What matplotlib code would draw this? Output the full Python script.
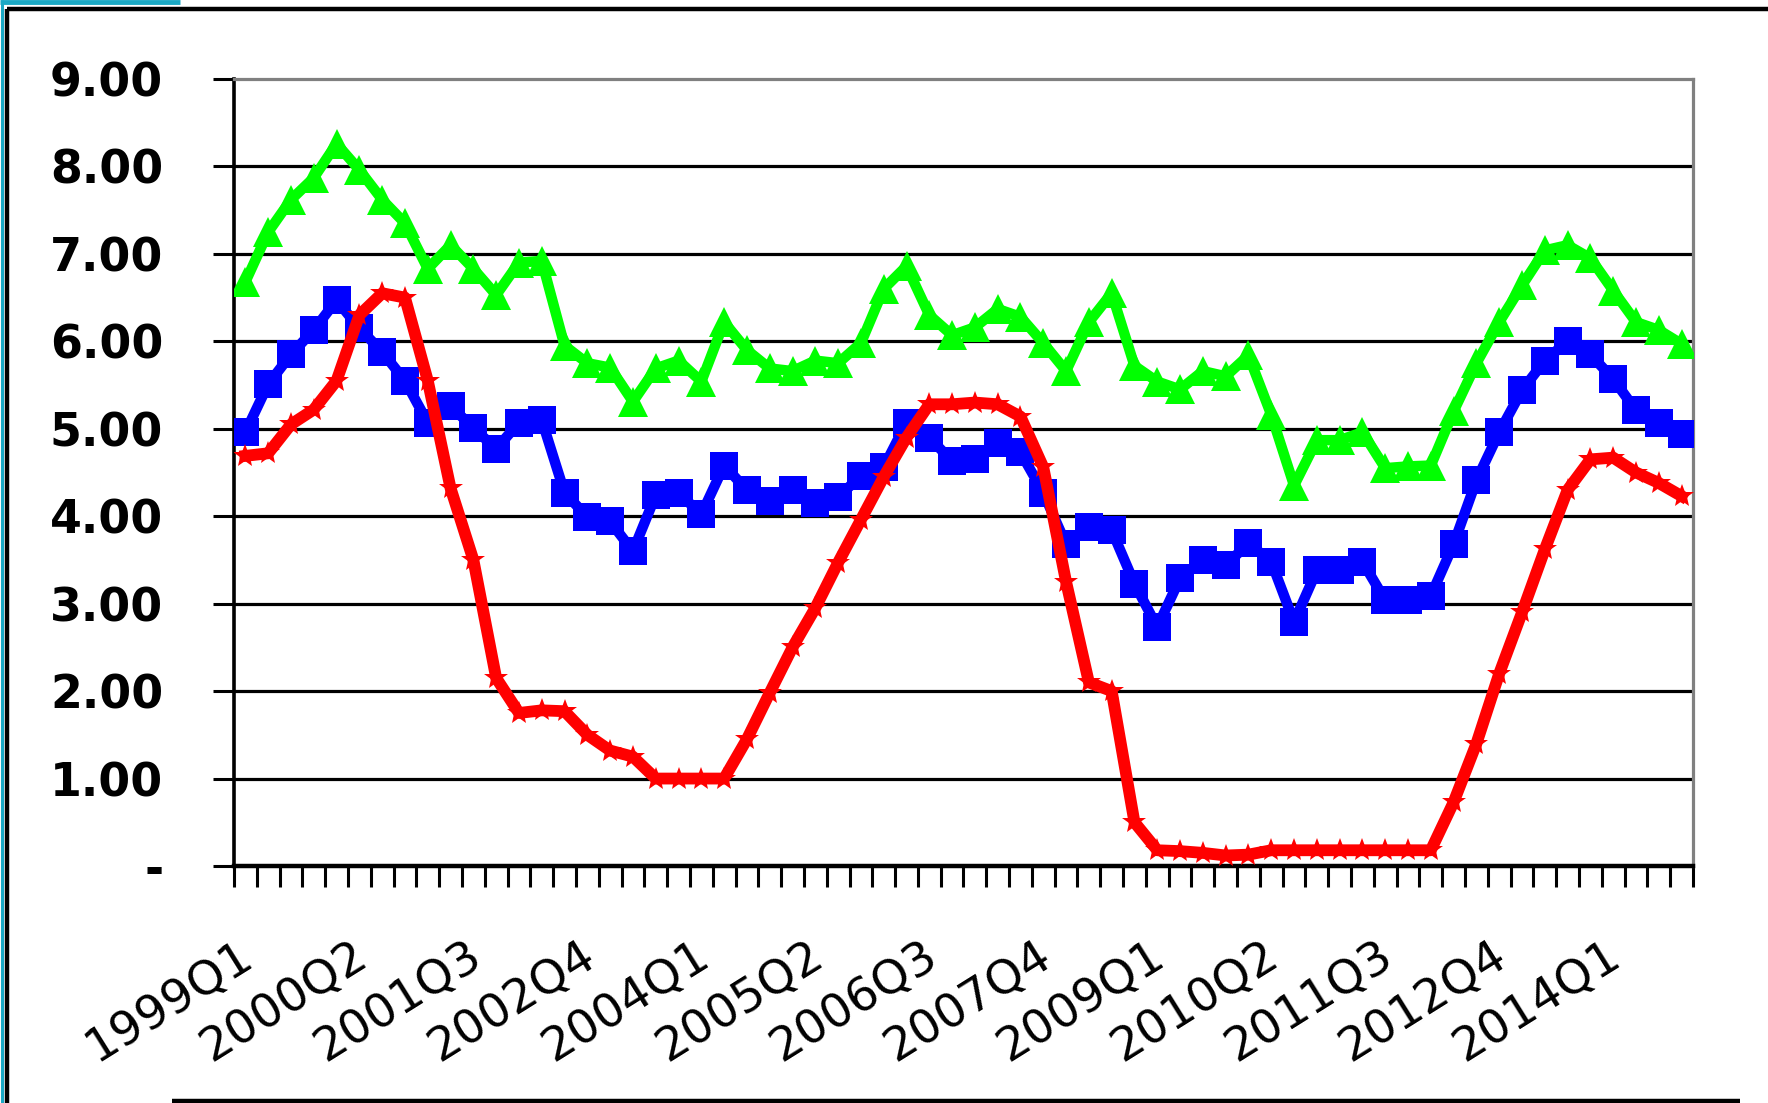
import numpy as np
import matplotlib
matplotlib.use("Agg")
import matplotlib.pyplot as plt
from matplotlib.lines import Line2D
from matplotlib.transforms import ScaledTranslation

# ---------------- data ----------------
years = list(range(1999, 2015))
quarters = [1, 2, 3, 4]
categories = [f"{y}Q{q}" for y in years for q in quarters]

green = [6.68, 7.25, 7.62, 7.87, 8.26, 7.96, 7.62, 7.35, 6.83, 7.10, 6.83, 6.53, 6.90, 6.92, 5.95, 5.75,
         5.70, 5.31, 5.69, 5.78, 5.54, 6.22, 5.90, 5.69, 5.66, 5.78, 5.75, 5.98, 6.60, 6.86, 6.30, 6.07,
         6.16, 6.37, 6.28, 5.98, 5.66, 6.22, 6.55, 5.72, 5.54, 5.45, 5.66, 5.60, 5.84, 5.16, 4.35, 4.87,
         4.87, 4.96, 4.55, 4.57, 4.58, 5.20, 5.75, 6.22, 6.64, 7.04, 7.10, 6.95, 6.58, 6.22, 6.13, 5.97]

blue = [4.96, 5.51, 5.85, 6.13, 6.47, 6.15, 5.88, 5.55, 5.07, 5.26, 5.01, 4.77, 5.07, 5.10, 4.27, 3.99,
        3.94, 3.60, 4.24, 4.27, 4.02, 4.58, 4.30, 4.17, 4.30, 4.15, 4.22, 4.46, 4.56, 5.07, 4.90, 4.63,
        4.65, 4.84, 4.73, 4.27, 3.68, 3.88, 3.84, 3.23, 2.73, 3.29, 3.50, 3.44, 3.69, 3.48, 2.79, 3.38,
        3.38, 3.48, 3.04, 3.04, 3.09, 3.68, 4.41, 4.96, 5.44, 5.78, 6.00, 5.85, 5.57, 5.21, 5.07, 4.94]

red = [4.69, 4.72, 5.05, 5.22, 5.55, 6.30, 6.55, 6.50, 5.55, 4.32, 3.50, 2.15, 1.75, 1.78, 1.77, 1.50,
       1.32, 1.25, 1.00, 1.00, 1.00, 1.00, 1.45, 1.98, 2.50, 2.95, 3.47, 3.96, 4.45, 4.90, 5.28, 5.28,
       5.30, 5.28, 5.14, 4.56, 3.25, 2.10, 2.00, 0.50, 0.18, 0.17, 0.15, 0.12, 0.13, 0.18, 0.18, 0.18,
       0.18, 0.18, 0.18, 0.18, 0.18, 0.73, 1.40, 2.20, 2.90, 3.62, 4.30, 4.65, 4.67, 4.50, 4.38, 4.23]

y_ticks = [0, 1, 2, 3, 4, 5, 6, 7, 8, 9]
y_tick_labels = ["-", "1.00", "2.00", "3.00", "4.00", "5.00", "6.00", "7.00", "8.00", "9.00"]
label_step = 5

# ---------------- figure ----------------
W, H = 1768, 1103
fig = plt.figure(figsize=(W / 100, H / 100), dpi=100)
fig.patch.set_facecolor("white")

left, right, top, bottom = 234, 1693, 79, 866
ax = fig.add_axes([left / W, 1 - bottom / H, (right - left) / W, (bottom - top) / H])

x = np.arange(len(categories))

ax.set_xlim(-0.5, len(categories) - 0.5)
ax.set_ylim(0, 9)

# gridlines (1..8)
for v in y_ticks[1:-1]:
    ax.axhline(v, color="black", lw=2.3, zorder=1)

ax.plot(x, green, color="#00ff00", lw=7.5, marker="^", markersize=21,
        markeredgewidth=0, zorder=3, solid_joinstyle="miter")
ax.plot(x, blue, color="#0000ff", lw=7.5, marker="s", markersize=20,
        markeredgewidth=0, zorder=4, solid_joinstyle="miter")
ax.plot(x, red, color="#ff0000", lw=8.5, marker="*", markersize=18,
        markeredgewidth=0, zorder=5)

# y axis
ax.set_yticks(y_ticks)
ax.set_yticklabels(y_tick_labels, fontfamily="DejaVu Sans", fontweight="bold", fontsize=33)
ax.tick_params(axis="y", length=15, width=2.2, pad=36, color="black")

# x axis
ax.set_xticks(x[::label_step])
ax.set_xticklabels(categories[::label_step], fontfamily="DejaVu Sans", fontsize=34,
                   rotation=32, ha="right", va="top", rotation_mode="anchor")
ax.set_xticks(np.arange(-0.5, len(categories), 1), minor=True)
ax.tick_params(axis="x", which="major", length=0, pad=48)
ax.tick_params(axis="x", which="minor", length=15, width=2.2, color="black", direction="out")
shift = ScaledTranslation(-0.08, 0, fig.dpi_scale_trans)
for lab in ax.xaxis.get_majorticklabels():
    lab.set_transform(lab.get_transform() + shift)

for s in ["top", "right"]:
    ax.spines[s].set_color("#808080")
    ax.spines[s].set_linewidth(2.3)
ax.spines["left"].set_color("black")
ax.spines["left"].set_linewidth(2.6)
ax.spines["bottom"].set_color("black")
ax.spines["bottom"].set_linewidth(3.2)

# ---------------- outer frame decorations ----------------
def fline(x0, y0, x1, y1, color, lw):
    fig.add_artist(Line2D([x0 / W, x1 / W], [1 - y0 / H, 1 - y1 / H],
                          transform=fig.transFigure, color=color, lw=lw,
                          solid_capstyle="butt"))

fline(7, 9, W, 9, "black", 3.2)             # top frame
fline(7, 9, 7, H, "black", 3.2)             # left frame
fline(172, 1101, 1740, 1101, "black", 3.2)  # bottom line
fline(1.5, 0, 1.5, H, "#1aa8c4", 2.2)       # cyan left edge
fline(0, 1.5, 180, 1.5, "#1aa8c4", 3.5)     # cyan tab top

fig.savefig("out.png", dpi=100, facecolor="white")
